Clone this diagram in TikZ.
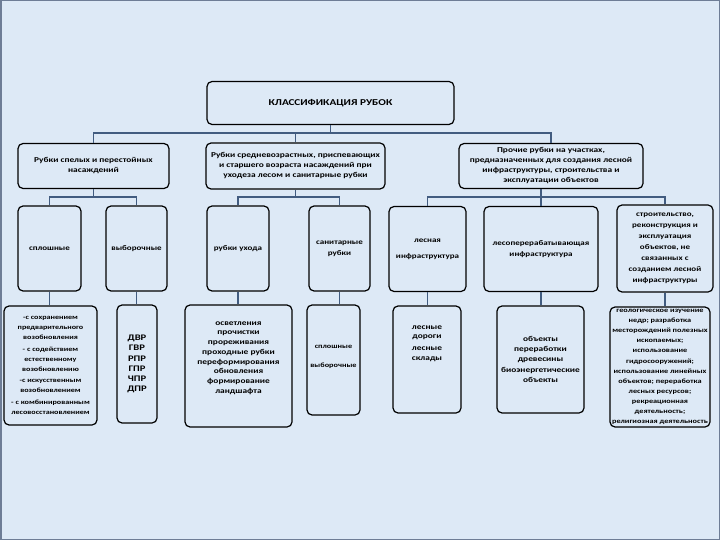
\documentclass[tikz,border=0pt]{standalone}
\usepackage{fontspec}
\setmainfont{Carlito}[FakeStretch=1.25]
\definecolor{bgc}{RGB}{221,233,246}
\definecolor{framec}{RGB}{110,125,150}
\definecolor{linkc}{RGB}{66,92,128}
\begin{document}
\begin{tikzpicture}[x=1pt,y=-1pt,
  box/.style={draw=black, rounded corners=5pt, line width=1.2pt, align=center,
    inner sep=1pt, font=\bfseries\fontsize{7.2}{11}\selectfont},
  txt/.style={align=center, inner sep=0pt},
  lvtwo/.style={font=\bfseries\fontsize{7.5}{10}\selectfont},
  lvfour/.style={font=\bfseries\fontsize{7.5}{9.7}\selectfont},
  tiny/.style={font=\bfseries\fontsize{6.6}{9}\selectfont},
  small/.style={font=\bfseries\fontsize{6.6}{10.1}\selectfont},
  big/.style={font=\bfseries\fontsize{8.5}{10.2}\selectfont},
  link/.style={draw=linkc, line width=1.4pt}]
\fill[bgc] (0,0) rectangle (720,540);
\draw[framec, line width=1.5pt] (0.75,0.75) rectangle (719.25,539.25);
\useasboundingbox (0,0) rectangle (720,540);

% level 1
\node[box, font=\bfseries\fontsize{9}{11}\selectfont, minimum width=247pt, minimum height=43pt] (top) at (330.5,103) {КЛАССИФИКАЦИЯ РУБОК};

% level 2
\node[box, lvtwo, minimum width=151pt, minimum height=45pt] (l2a) at (93.5,166) {Рубки спелых и перестойных\\насаждений};
\node[box, lvtwo, minimum width=179pt, minimum height=46pt] (l2b) at (295.5,166) {Рубки средневозрастных, приспевающих\\и старшего возраста насаждений при\\уходеза лесом и санитарные рубки};
\node[box, lvtwo, minimum width=184pt, minimum height=45pt] (l2c) at (551,166) {Прочие рубки на участках,\\предназначенных для создания лесной\\инфраструктуры, строительства и\\эксплуатации объектов};

% level 3
\node[box, minimum width=63pt, minimum height=85pt] (a1) at (49.5,248.5) {сплошные};
\node[box, minimum width=61pt, minimum height=85pt] (a2) at (136.5,248.5) {выборочные};
\node[box, minimum width=62pt, minimum height=85pt] (b1) at (238,248.5) {рубки ухода};
\node[box, minimum width=61pt, minimum height=85pt] (b2) at (339.5,248.5) {санитарные\\рубки};
\node[box, minimum width=77pt, minimum height=85pt] (c1) at (427.5,249) {лесная\\[5pt]инфраструктура};
\node[box, minimum width=114pt, minimum height=85pt] (c2) at (541,249) {лесоперерабатывающая\\инфраструктура};
\node[box, minimum width=96pt, minimum height=87pt] (c3) at (665,248.5) {строительство,\\реконструкция и\\эксплуатация\\объектов, не\\связанных с\\созданием лесной\\инфраструктуры};

% level 4
\node[box, font=\bfseries\fontsize{6.5}{10}\selectfont, minimum width=93pt, minimum height=119pt] (d1) at (50.5,365.5) {-с сохранением\\предварительного\\возобновления\\[1.5pt]- с содействием\\естественному\\возобновлению\\[1.5pt]-с искусственным\\возобновлением\\[1.5pt]- с комбинированным\\лесовосстановлением};
\node[box, big, minimum width=40pt, minimum height=118pt] (d2) at (137,364) {ДВР\\ГВР\\РПР\\ГПР\\ЧПР\\ДПР};
\node[box, minimum width=107pt, minimum height=122pt] (d3) at (238.5,366) {};
\node[txt, lvfour] (d3t) at ([yshift=8pt]d3.center) {осветления\\прочистки\\прореживания\\проходные рубки\\переформирования\\обновления\\формирование\\ландшафта};
\node[box, minimum width=53pt, minimum height=110pt] (d4) at (333.5,360) {};
\node[txt, tiny] (d4t) at ([yshift=3pt]d4.center) {сплошные\\[10pt]выборочные};
\node[box, minimum width=68pt, minimum height=107pt] (d5) at (427,359.5) {};
\node[txt, lvfour] (d5t) at ([yshift=16pt]d5.center) {лесные\\дороги\\[2pt]лесные\\склады};
\node[box, lvfour, minimum width=87pt, minimum height=107pt] (d6) at (540.5,359.5) {объекты\\переработки\\древесины\\[2pt]биоэнергетические\\объекты};
\node[box, small, minimum width=100pt, minimum height=120pt] (d7) at (660,367) {геологическое изучение\\недр; разработка\\месторождений полезных\\ископаемых;\\использование\\гидросооружений;\\использование линейных\\объектов; переработка\\лесных ресурсов;\\рекреационная\\деятельность;\\религиозная деятельность};

% connectors
\coordinate (bus1) at (330,133);
\coordinate (busA) at (93,197);
\draw[link] (top.south) -- (top.south |- bus1);
\draw[link] (l2a.north) -- (l2a.north |- bus1) -| (l2c.north);
\draw[link] (l2b.north) -- (l2b.north |- bus1);

\draw[link] (l2a.south) -- (l2a.south |- busA);
\draw[link] (a1.north) -- (a1.north |- busA) -| (a2.north);
\draw[link] (l2b.south) -- (l2b.south |- busA);
\draw[link] (b1.north) -- (b1.north |- busA) -| (b2.north);
\draw[link] (c2.north) -- (c2.north |- l2c.south);
\draw[link] (c1.north) -- (c1.north |- busA) -| (c3.north);

\draw[link] (a1.south) -- (a1.south |- d1.north);
\draw[link] (a2.south) -- (a2.south |- d2.north);
\draw[link] (b1.south) -- (b1.south |- d3.north);
\draw[link] (b2.south) -- (b2.south |- d4.north);
\draw[link] (c1.south) -- (c1.south |- d5.north);
\draw[link] (c2.south) -- (c2.south |- d6.north);
\draw[link] (c3.south) -- (c3.south |- d7.north);
\end{tikzpicture}
\end{document}
